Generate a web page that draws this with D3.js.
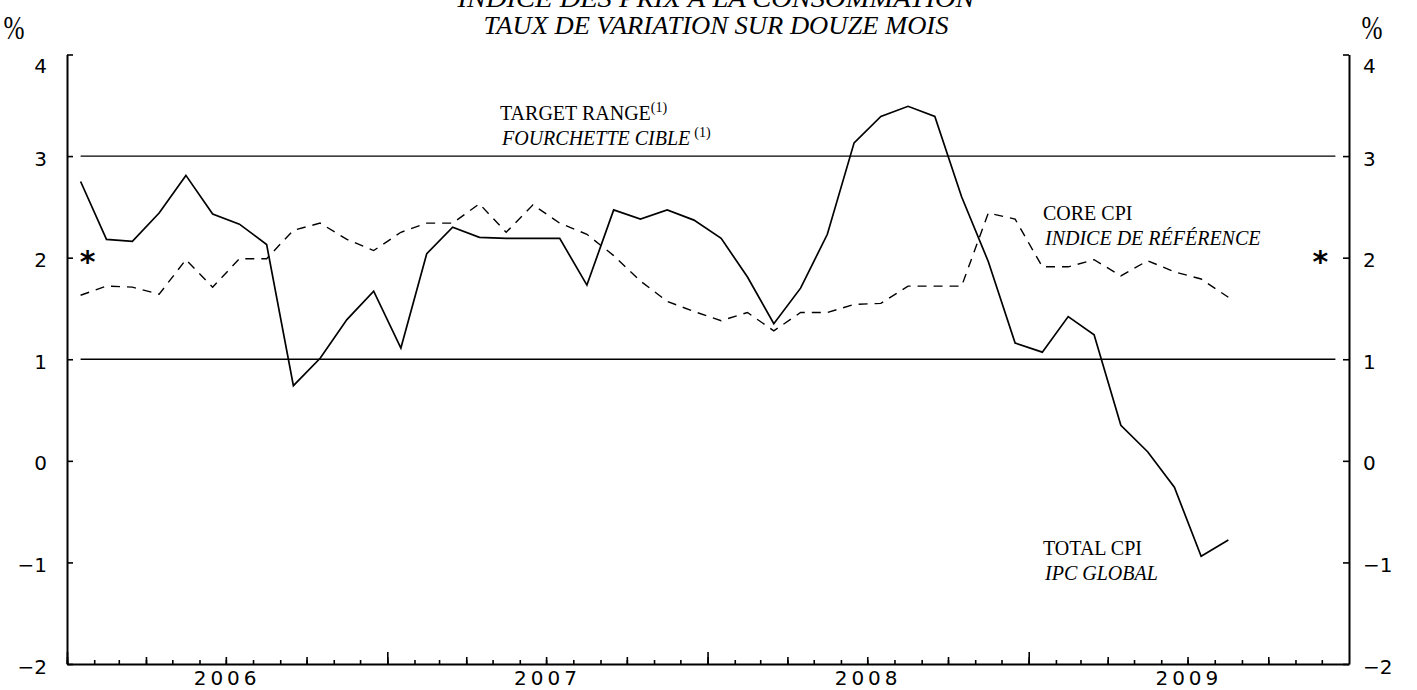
<!DOCTYPE html>
<html>
<head>
<meta charset="utf-8">
<script src="https://cdn.jsdelivr.net/npm/d3@7"></script>
<style>
  html, body { margin: 0; padding: 0; background: #fff; }
  svg { display: block; }
  .serif { font-family: "Liberation Serif", "DejaVu Serif", serif; fill: #000; }
  .axis text { font-family: "DejaVu Sans", sans-serif; font-size: 20px; fill: #000; }
</style>
</head>
<body>
<div id="chart"></div>
<script>
// first observation: January 2006, monthly up to August 2009
const startMonth = new Date(Date.UTC(2006, 0, 1));

// 12-month % change, total CPI
const totalCpi = [
  2.75, 2.18, 2.16, 2.44, 2.81, 2.43, 2.33, 2.13, 0.74, 1.01, 1.39, 1.67,
  1.11, 2.04, 2.30, 2.20, 2.19, 2.19, 2.19, 1.73, 2.47, 2.38, 2.47, 2.37,
  2.19, 1.81, 1.35, 1.70, 2.23, 3.13, 3.39, 3.49, 3.39, 2.60, 1.96, 1.16,
  1.07, 1.42, 1.24, 0.35, 0.09, -0.26, -0.94, -0.78
];

// 12-month % change, core CPI
const coreCpi = [
  1.63, 1.72, 1.71, 1.64, 1.98, 1.71, 1.99, 1.99, 2.27, 2.34, 2.18, 2.07,
  2.25, 2.34, 2.34, 2.53, 2.25, 2.52, 2.34, 2.23, 2.02, 1.77, 1.57, 1.47,
  1.38, 1.46, 1.28, 1.46, 1.46, 1.54, 1.55, 1.72, 1.72, 1.72, 2.44, 2.38,
  1.91, 1.91, 1.98, 1.82, 1.97, 1.86, 1.79, 1.61
];

const targetRange = [1, 3];
const yTicks = [-2, -1, 0, 1, 2, 3, 4];
const yearLabels = [2006, 2007, 2008, 2009];
const titleLines = ['INDICE DES PRIX À LA CONSOMMATION', 'TAUX DE VARIATION SUR DOUZE MOIS'];

const width = 1417, height = 690;
const margin = { left: 67, right: 68, top: 54.5, bottom: 26 };

const svg = d3.select('#chart').append('svg')
    .attr('width', width)
    .attr('height', height);

const x = d3.scaleUtc()
    .domain([startMonth, new Date(Date.UTC(2010, 0, 1))])
    .range([margin.left, width - margin.right]);

const y = d3.scaleLinear()
    .domain([-2, 4])
    .range([height - margin.bottom, margin.top]);

const monthMid = (i) => {
    const a = d3.utcMonth.offset(startMonth, i);
    const b = d3.utcMonth.offset(startMonth, i + 1);
    return (x(a) + x(b)) / 2;
};

// target range lines, from the first to the last month of the axis
const lastMonth = d3.utcMonth.count(startMonth, x.domain()[1]) - 1;
svg.selectAll('.target')
    .data(targetRange)
    .enter().append('line')
    .attr('class', 'target')
    .attr('x1', monthMid(0))
    .attr('x2', monthMid(lastMonth))
    .attr('y1', d => y(d))
    .attr('y2', d => y(d))
    .attr('stroke', '#000')
    .attr('stroke-width', 1.3);

// bottom axis: month, quarter and year ticks pointing up
const xAxisY = height - margin.bottom;
const bottomTicks = [
    { values: d3.utcMonth.range(startMonth, x.domain()[1]), size: 4 },
    { values: d3.utcMonth.every(3).range(startMonth, x.domain()[1]), size: 7 },
    { values: d3.utcYear.range(startMonth, x.domain()[1]), size: 12 },
];
bottomTicks.forEach((t, i) => {
    const g = svg.append('g')
        .attr('class', 'axis')
        .attr('transform', `translate(0,${xAxisY})`)
        .call(d3.axisTop(x).tickValues(t.values).tickSize(t.size).tickSizeOuter(0).tickFormat(''));
    g.selectAll('line').attr('stroke-width', 1.6);
    g.select('.domain').attr('stroke-width', 2).style('display', i === 0 ? null : 'none');
});

svg.selectAll('.year')
    .data(yearLabels)
    .enter().append('text')
    .attr('class', 'axis year')
    .attr('x', d => (x(new Date(Date.UTC(d, 0, 1))) + x(new Date(Date.UTC(d + 1, 0, 1)))) / 2)
    .attr('y', 685)
    .attr('text-anchor', 'middle')
    .style('font-family', '"DejaVu Sans", sans-serif')
    .style('font-size', '20px')
    .style('letter-spacing', '4px')
    .text(d => d);

const fmt = d => (d < 0 ? '\u2212' + Math.abs(d) : String(d));

// left and right value axes, ticks pointing inward
const leftAxis = svg.append('g')
    .attr('class', 'axis')
    .attr('transform', `translate(${margin.left},0)`)
    .call(d3.axisLeft(y).tickValues(yTicks).tickSize(-6).tickSizeOuter(0).tickPadding(20).tickFormat(fmt));

const rightAxis = svg.append('g')
    .attr('class', 'axis')
    .attr('transform', `translate(${width - margin.right},0)`)
    .call(d3.axisRight(y).tickValues(yTicks).tickSize(-6).tickSizeOuter(0).tickPadding(14).tickFormat(fmt));

[leftAxis, rightAxis].forEach(g => {
    g.select('.domain').attr('stroke-width', 2);
    g.selectAll('line').attr('stroke-width', 1.6);
    g.selectAll('text').attr('dy', d => (d === 4 ? '0.9em' : '0.45em'));
});

// series
const line = d3.line()
    .x((d, i) => monthMid(i))
    .y(d => y(d));

svg.append('path')
    .datum(coreCpi)
    .attr('fill', 'none')
    .attr('stroke', '#000')
    .attr('stroke-width', 1.4)
    .attr('stroke-dasharray', '9,7')
    .attr('d', line);

svg.append('path')
    .datum(totalCpi)
    .attr('fill', 'none')
    .attr('stroke', '#000')
    .attr('stroke-width', 1.7)
    .attr('stroke-linejoin', 'miter')
    .attr('d', line);

// asterisks at the 2% midpoint
svg.selectAll('.star')
    .data([monthMid(0) + 7, monthMid(lastMonth) - 15])
    .enter().append('text')
    .attr('x', d => d)
    .attr('y', y(2) + 14)
    .attr('text-anchor', 'middle')
    .style('font-family', '"DejaVu Sans", sans-serif')
    .style('font-weight', 'bold')
    .style('font-size', '30px')
    .text('*');

// title (first line runs off the top, as in the source)
svg.selectAll('.title')
    .data(titleLines)
    .enter().append('text')
    .attr('class', 'serif title')
    .attr('x', 716)
    .attr('y', (d, i) => 7 + i * 27)
    .attr('text-anchor', 'middle')
    .attr('textLength', (d, i) => (i === 0 ? 517 : 465))
    .attr('lengthAdjust', 'spacingAndGlyphs')
    .style('font-style', 'italic')
    .style('font-size', '25px')
    .text(d => d);

svg.selectAll('.pct')
    .data([14, 1372])
    .enter().append('text')
    .attr('class', 'serif')
    .attr('x', d => d)
    .attr('y', 39)
    .attr('text-anchor', 'middle')
    .attr('textLength', 21)
    .attr('lengthAdjust', 'spacingAndGlyphs')
    .style('font-size', '33px')
    .text('%');

// labels
function label(xPos, yPos, upright, italic, sup) {
    const t1 = svg.append('text').attr('class', 'serif')
        .attr('x', xPos).attr('y', yPos).style('font-size', '20px');
    t1.append('tspan').text(upright);
    if (sup) t1.append('tspan').attr('dy', -8).style('font-size', '14px').text('(1)');
    const t2 = svg.append('text').attr('class', 'serif')
        .attr('x', xPos + 2).attr('y', yPos + 25).style('font-size', '20px').style('font-style', 'italic');
    t2.append('tspan').text(italic);
    if (sup) t2.append('tspan').attr('dx', 4).attr('dy', -8).style('font-size', '14px').style('font-style', 'normal').text('(1)');
}
label(500, 120, 'TARGET RANGE', 'FOURCHETTE CIBLE', true);
label(1043, 220, 'CORE CPI', 'INDICE DE RÉFÉRENCE', false);
label(1043, 555, 'TOTAL CPI', 'IPC GLOBAL', false);
</script>
</body>
</html>
